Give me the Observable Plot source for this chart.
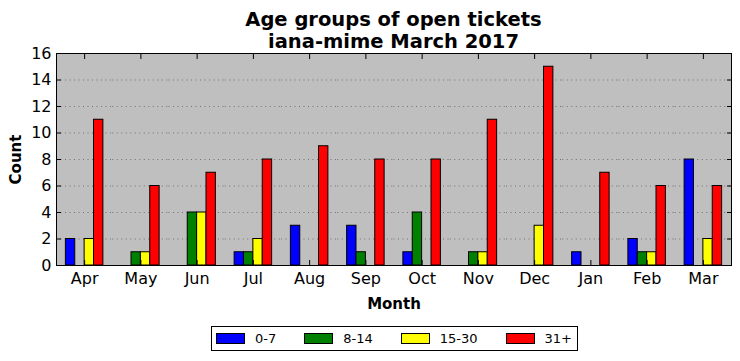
<!DOCTYPE html>
<html>
<head>
<meta charset="utf-8">
<script src="https://cdn.jsdelivr.net/npm/d3@7"></script>
<script src="https://cdn.jsdelivr.net/npm/@observablehq/plot@0.6"></script>
<style>
  body { margin: 0; background: white; font-family: "DejaVu Sans", sans-serif; }
  #wrap { width: 740px; position: relative; }
  #title { position: absolute; left: 0; top: 9px; box-sizing: border-box; width: 740px; padding: 0 9px 0 56px;
           text-align: center; font-weight: bold; font-size: 19.5px; line-height: 22px; color: black; }
  #chart svg { display: block; }
  #chart svg g[aria-label$="axis label"] text { font-weight: bold; font-size: 15px; }
  #legend { margin: 11px 0 0 211px; width: 361px; height: 23px; border: 1px solid black; padding-left: 4px;
            display: flex; align-items: center; gap: 28px; font-size: 13px; box-sizing: content-box; white-space: nowrap; }
  .item { display: flex; align-items: center; flex-shrink: 0; }
  .sw { width: 27px; height: 9px; border: 1px solid black; margin-right: 10px; flex-shrink: 0; }
</style>
</head>
<body>
<div id="wrap">
  <div id="chart"></div>
  <div id="title">Age groups of open tickets<br>iana-mime March 2017</div>
  <div id="legend"></div>
</div>
<script>
const months = ["Apr","May","Jun","Jul","Aug","Sep","Oct","Nov","Dec","Jan","Feb","Mar"];
const groups = ["0-7","8-14","15-30","31+"];
const colors = ["#0000ff","#008000","#ffff00","#ff0000"];
const g0_7   = [2,0,0,1,3,3,1,0,0,1,2,8];
const g8_14  = [0,1,4,1,0,1,4,1,0,0,1,0];
const g15_30 = [2,1,4,2,0,0,0,1,3,0,1,2];
const g31    = [11,6,7,8,9,8,8,11,15,7,6,6];
const yTicks = [0,2,4,6,8,10,12,14,16];

const series = [g0_7, g8_14, g15_30, g31];
const rows = [];
months.forEach((m, i) => groups.forEach((g, j) => rows.push({month: m, group: g, count: series[j][i]})));

const chart = Plot.plot({
  width: 740, height: 315,
  marginLeft: 56, marginRight: 9, marginTop: 53, marginBottom: 50,
  style: {fontFamily: "DejaVu Sans", fontSize: "16px", color: "black", background: "white"},
  fx: {domain: months, padding: 0, round: false},
  x: {domain: groups, paddingInner: 0, paddingOuter: 1, round: false, axis: null},
  y: {domain: [0, 16]},
  color: {domain: groups, range: colors},
  marks: [
    Plot.frame({fill: "#bfbfbf", stroke: "none", shapeRendering: "crispEdges"}),
    Plot.gridY(yTicks.filter(t => t > 0 && t < 16), {stroke: "#707070", strokeOpacity: 1, strokeDasharray: "1,3.5"}),
    Plot.barY(rows, {fx: "month", x: "group", y: "count", fill: "group", stroke: "black", strokeWidth: 1}),
    Plot.frame({anchor: "top"}),
    Plot.frame({anchor: "bottom"}),
    Plot.frame({anchor: "left", facetAnchor: "left"}),
    Plot.frame({anchor: "right", facetAnchor: "right"}),
    // inward tick marks
    Plot.axisY({anchor: "left", ticks: yTicks, tickSize: 5, dx: 5, tickFormat: () => "", label: null}),
    Plot.axisY({anchor: "right", ticks: yTicks, tickSize: 5, dx: -5, tickFormat: () => "", label: null}),
    Plot.axisFx({anchor: "bottom", tickSize: 5, dy: -5, tickFormat: () => "", label: null}),
    Plot.axisFx({anchor: "top", tickSize: 5, dy: 5, tickFormat: () => "", label: null}),
    // tick labels and axis titles
    Plot.axisY({anchor: "left", ticks: yTicks, tickSize: 0, tickPadding: 5, label: "Count",
                labelAnchor: "center", labelOffset: 46, labelArrow: "none"}),
    Plot.axisFx({anchor: "bottom", tickSize: 0, tickPadding: 7, label: "Month",
                 labelAnchor: "center", labelOffset: 43, labelArrow: "none"})
  ]
});
document.getElementById("chart").appendChild(chart);

const legend = document.getElementById("legend");
groups.forEach((g, j) => {
  const it = document.createElement("div");
  it.className = "item";
  const sw = document.createElement("div");
  sw.className = "sw";
  sw.style.background = colors[j];
  const lab = document.createElement("span");
  lab.textContent = g;
  it.appendChild(sw); it.appendChild(lab);
  legend.appendChild(it);
});
</script>
</body>
</html>
